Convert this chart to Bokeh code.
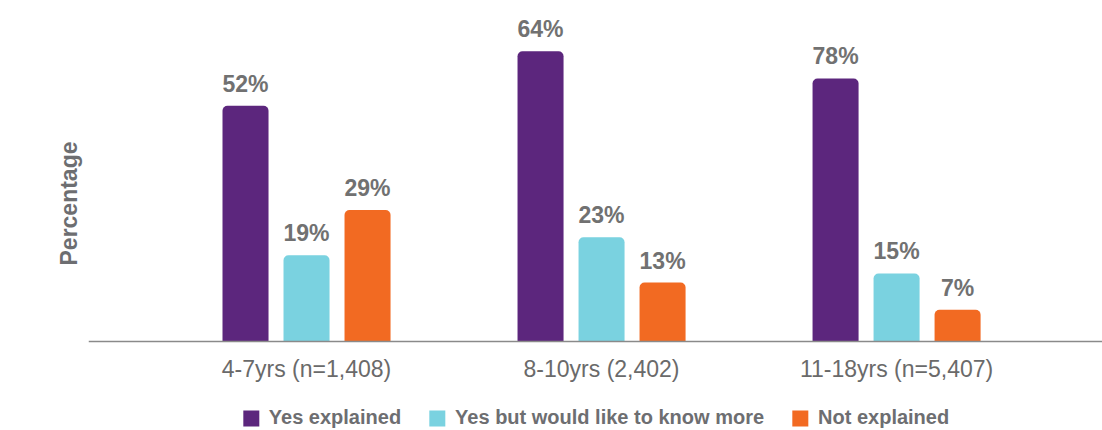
import math
from bokeh.plotting import figure
from bokeh.models import ColumnDataSource, Range1d, FixedTicker, Legend, LegendItem, Title
from bokeh.core.properties import value
from bokeh.embed import file_html
from bokeh.resources import INLINE

# ---- data ----
groups = ["4-7yrs (n=1,408)", "8-10yrs (2,402)", "11-18yrs (n=5,407)"]
series = ["Yes explained", "Yes but would like to know more", "Not explained"]
yes_explained = [52, 64, 78]
yes_more = [19, 23, 15]
not_explained = [29, 13, 7]
# bar heights as drawn in the source graphic (the 78% bar is drawn at ~58% height there)
yes_explained_drawn = [52, 64, 58]
colors = ["#5C267D", "#7AD2E0", "#F26A22"]

FONT = "Liberation Sans"
GRAY = "#717171"

p = figure(frame_width=1014, frame_height=422,
           output_backend="svg", toolbar_location=None,
           x_range=Range1d(-0.739, 2.698), y_range=Range1d(-19.62, 73.43),
           min_border_left=88, min_border_right=0, min_border_top=8, min_border_bottom=0)
p.outline_line_color = None
p.grid.grid_line_color = None
p.background_fill_color = "white"
p.border_fill_color = "white"

xs = list(range(len(groups)))
offsets = [-0.2068, 0.0, 0.2068]
bar_w = 0.156
heights_list = [yes_explained_drawn, yes_more, not_explained]
labels_list = [yes_explained, yes_more, not_explained]

items = []
for i, (name, col) in enumerate(zip(series, colors)):
    src = ColumnDataSource(dict(
        x=[x + offsets[i] for x in xs],
        top=heights_list[i],
        lab=[f"{v}%" for v in labels_list[i]],
    ))
    r = p.vbar(x="x", top="top", bottom=0, width=bar_w, source=src, fill_color=col,
               line_color=None, border_radius=(5, 5, 0, 0))
    p.text(x="x", y="top", text="lab", source=src, text_align="center",
           text_baseline="bottom", y_offset=-9, text_color=GRAY,
           text_font=value(FONT), text_font_style="bold", text_font_size="23px")
    items.append(LegendItem(label=name, renderers=[r]))

# y axis: no ticks drawn, only used to reserve room so the vertical title sits at the far left
ya = p.yaxis[0]
ya.ticker = FixedTicker(ticks=[])
ya.axis_line_color = None
ya.major_tick_line_color = "white"
ya.minor_tick_line_color = None
ya.major_tick_out = 48
ya.major_tick_in = 0
ya.major_label_standoff = 0

xa = p.xaxis[0]
xa.fixed_location = 0
xa.ticker = FixedTicker(ticks=xs)
xa.major_label_overrides = {i: g for i, g in enumerate(groups)}
xa.major_tick_line_color = None
xa.minor_tick_line_color = None
xa.major_tick_out = 0
xa.major_tick_in = 0
xa.axis_line_color = "#8a8a8a"
xa.axis_line_width = 1.5
xa.major_label_standoff = 14
xa.axis_label_standoff = 0
xa.major_label_text_font = FONT
xa.major_label_text_font_size = "23px"
xa.major_label_text_color = "#6a6a6a"

legend = Legend(items=items, orientation="horizontal", location="bottom_center",
                label_text_font=FONT, label_text_font_style="bold",
                label_text_font_size="20px", label_text_color="#6d6e71",
                glyph_width=20, glyph_height=20, label_standoff=8, spacing=26,
                border_line_color=None, background_fill_alpha=0,
                padding=0, margin=1)
p.add_layout(legend, "center")

ytitle = Title(text="Percentage", align="left", offset=165, vertical_align="top",
               text_color="#6d6e71", text_font=FONT, text_font_style="bold",
               text_font_size="23px")
p.add_layout(ytitle, "left")

open("out.html", "w").write(file_html(p, INLINE))
